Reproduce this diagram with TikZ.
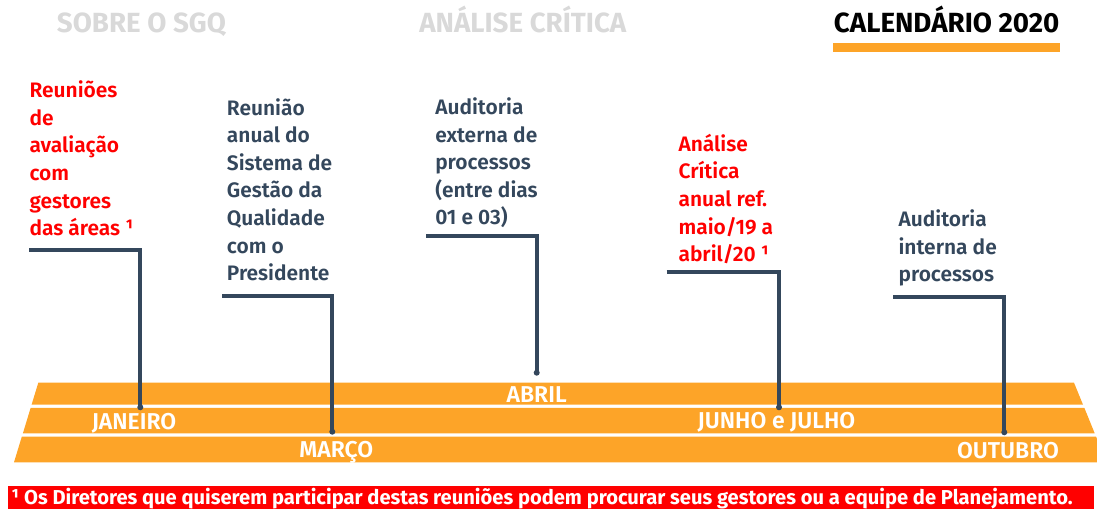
\documentclass[tikz,border=0pt]{standalone}
\usepackage{fontspec}
\setmainfont{Fira Sans}[UprightFont=* SemiBold, BoldFont=* Bold]
\usetikzlibrary{positioning}
\definecolor{laranja}{HTML}{FDA428}
\definecolor{ardosia}{HTML}{34475C}
\definecolor{cinza}{HTML}{D9D9D9}
\tikzset{circ/.style = {fill = ardosia, circle, inner sep = 0, minimum size = 4.5}}
\tikzset{conn/.style = {draw = ardosia, line width = 3pt}}
\tikzset{faixa/.style = {fill = laranja}}
\tikzset{evento/.style = {anchor = base west, align = left, inner sep = 0, text = ardosia,
                          font = \fontsize{15.7}{20.7}\selectfont}}
\tikzset{aviso/.style = {evento, text = red}}
\tikzset{mes/.style = {anchor = base, inner sep = 0, text = white,
                       font = \fontsize{17.2}{18}\selectfont}}
\tikzset{aba/.style = {anchor = base west, inner sep = 0, font = \bfseries\fontsize{20.8}{24}\selectfont}}

\begin{document}
\begin{tikzpicture}[x = 0.75pt, y = -0.75pt]
      \useasboundingbox (0, 0) rectangle (1097, 509);
      \clip (0, 0) rectangle (1097, 509);
      \node [aba, text = cinza] (sgq) at (56.7, 32.3) {SOBRE O SGQ};
      \node [aba, text = cinza] (analise) at (419, 32.3) {ANÁLISE CRÍTICA};
      \node [aba, text = black] (calendario) at (833.7, 32.3) {CALENDÁRIO 2020};
      \fill [laranja] (832.7, 42.7) rectangle (1060.3, 52.3);
      \fill [faixa] (38.3, 382.7) -- (1074, 382.7) -- (1083, 404.7) -- (31.6, 404.7) -- cycle;
      \fill [faixa] (30.6, 408) -- (1084.4, 408) -- (1094.7, 433.3) -- (22.9, 433.3) -- cycle;
      \fill [faixa] (21.8, 436.7) -- (1096.1, 436.7) -- (1106.6, 462.3) -- (14, 462.3) -- cycle;
      \node [mes] (abril) at (536.7, 402.7) {ABRIL};
      \node [mes] (janeiro) at (134, 430) {JANEIRO};
      \node [mes] (junho) at (776.5, 429) {JUNHO e JULHO};
      \node [mes] (marco) at (336.3, 457.3) {MARÇO};
      \node [mes] (outubro) at (1008, 458.3) {OUTUBRO};
      \node [aviso] (ev-jan) at (29.3, 235.7) {Reuniões\\de\\avaliação\\com\\gestores\\das áreas ¹};
      \node [evento] (ev-mar) at (226.7, 280.7) {Reunião\\anual do\\Sistema de\\Gestão da\\Qualidade\\com o\\Presidente};
      \node [evento] (ev-abr) at (435, 225) {Auditoria\\externa de\\processos\\(entre dias\\01 e 03)};
      \node [aviso] (ev-jun) at (678.3, 261.7) {Análise\\Crítica\\anual ref.\\maio/19 a\\abril/20 ¹};
      \node [evento] (ev-out) at (898.3, 281.7) {Auditoria\\interna de\\processos};
      \coordinate (jan-ini) at (29, 250);
      \coordinate (mar-ini) at (222, 296);
      \coordinate (abr-ini) at (426, 236);
      \coordinate (jun-ini) at (666.7, 272);
      \coordinate (out-ini) at (893.3, 296.7);
      \node [circ] (jan-fim) at (140.3, 407.3) {};
      \node [circ] (mar-fim) at (332.3, 431.7) {};
      \node [circ] (abr-fim) at (536.7, 372.7) {};
      \node [circ] (jun-fim) at (779, 407.3) {};
      \node [circ] (out-fim) at (1004.3, 432.3) {};
      \draw [conn] (jan-ini) -| (jan-fim.center);
      \draw [conn] (mar-ini) -| (mar-fim.center);
      \draw [conn] (abr-ini) -| (abr-fim.center);
      \draw [conn] (jun-ini) -| (jun-fim.center);
      \draw [conn] (out-ini) -| (out-fim.center);
      \fill [red] (8.3, 485.7) rectangle (1094.3, 510);
      \node [anchor = base west, inner sep = 0, text = white, font = \bfseries\fontsize{15.1}{16}\selectfont]
        (nota) at (11, 504.3) {¹ Os Diretores que quiserem participar destas reuniões podem procurar seus gestores ou a equipe de Planejamento.};
    \end{tikzpicture}
\end{document}
